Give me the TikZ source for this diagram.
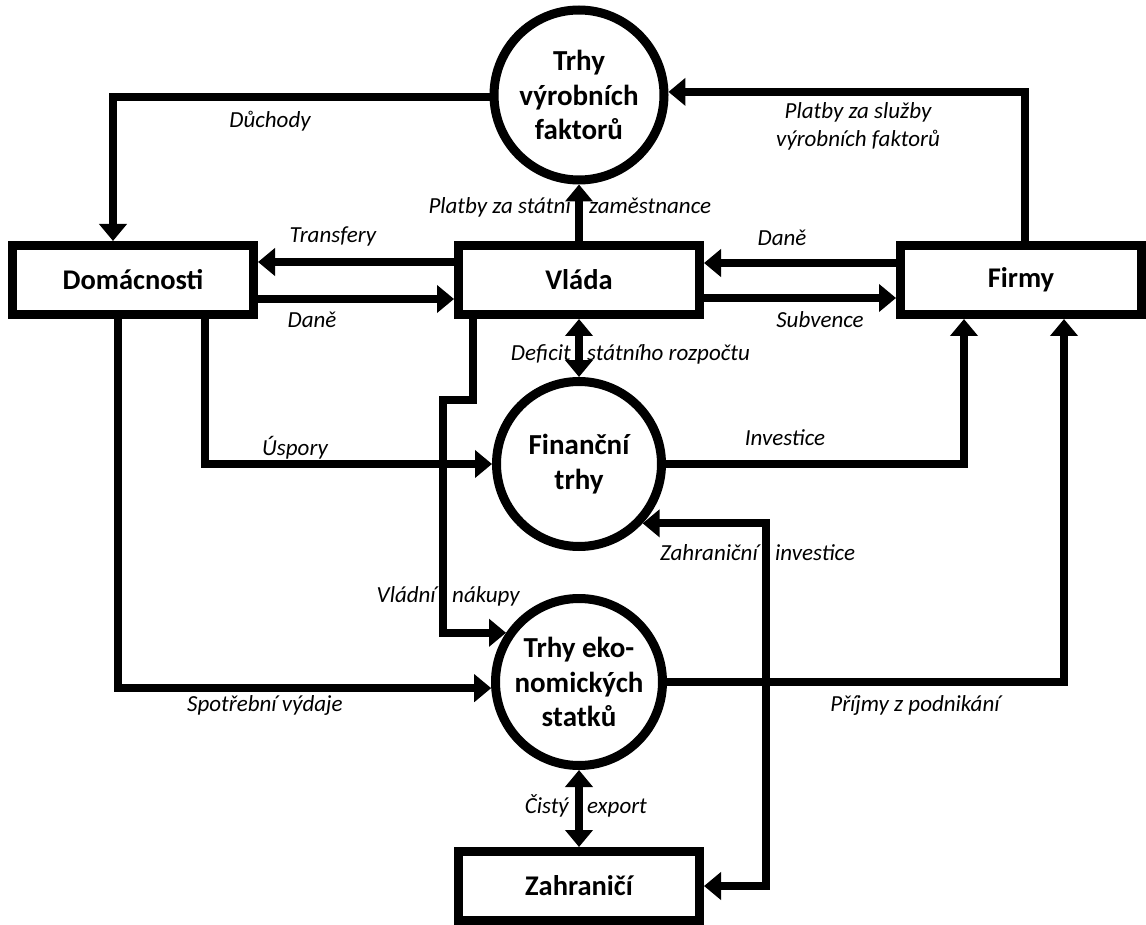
\documentclass[tikz,border=0pt]{standalone}
\usepackage{fontspec}
\setmainfont{Carlito}
\usetikzlibrary{arrows.meta}
\begin{document}
\begin{tikzpicture}[x=1pt,y=-1pt,
  box/.style={draw, line width=9pt, minimum width=241pt, minimum height=69pt, inner sep=0pt, font=\bfseries\fontsize{28.5}{34}\selectfont},
  mkt/.style={draw, circle, line width=9pt, inner sep=0pt, align=center, font=\bfseries\fontsize{29}{34.5}\selectfont},
  tip/.tip={Triangle[width=27pt,length=17pt]},
  flow/.style={line width=8pt, -tip},
  flowboth/.style={line width=8pt, tip-tip},
  lbl/.style={font=\itshape\fontsize{23}{28}\selectfont, inner sep=0pt, text height=16pt, text depth=5pt}
]
\fill[white] (0,0) rectangle (1146,925);
\useasboundingbox (0,0) rectangle (1146,925);

% nodes
\node[mkt, minimum size=170pt] (top) at (579,95) {Trhy\\výrobních\\faktorů};
\node[box] (dom) at (133,280) {Domácnosti};
\node[box] (vla) at (579,280) {Vláda};
\node[box] (fir) at (1021,280) {Firmy};
\node[mkt, minimum size=165pt] (fin) at (579,464) {Finanční\\trhy};
\node[mkt, minimum size=167pt] (gds) at (579,682) {Trhy eko-\\nomických\\statků};
\node[box] (zah) at (579,886) {Zahraničí};

\coordinate (zx) at (766,700);
\coordinate (vn) at (443,400);

% connectors
\draw[flow] (top.181) -| ([xshift=-20pt]dom.north);
\draw[flow] ([xshift=4pt]fir.north) |- (top.2);
\draw[flow] (vla.north) -- (top.south);
\draw[flow] ([yshift=18pt]vla.west) -- ([yshift=18pt]vla.west -| dom.east);
\draw[flow] ([yshift=-19pt]dom.east) -- ([yshift=-19pt]dom.east -| vla.west);
\draw[flow] ([yshift=17pt]fir.west) -- ([yshift=17pt]fir.west -| vla.east);
\draw[flow] ([yshift=-18pt]vla.east) -- ([yshift=-18pt]vla.east -| fir.west);
\draw[flowboth] (vla.south) -- (fin.north);
\draw[flow] ([xshift=72pt]dom.south) |- (fin.west);
\draw[flow] (fin.east) -| ([xshift=-57pt]fir.south);
\draw[flowboth] (fin.-43) -| (zx) |- (zah.east);
\draw[flow] ([xshift=-106pt]vla.south) |- (vn) |- (gds.146);
\draw[flow] ([xshift=-15pt]dom.south) |- (gds.184);
\draw[flow] (gds.east) -| ([xshift=43pt]fir.south);
\draw[flowboth] (gds.south) -- (zah.north);

% labels
\node[lbl] (l1) at (270,122) {Důchody};
\node[lbl, align=center, text height=, text depth=, font=\itshape\fontsize{23}{28}\selectfont] (l2) at (858,126) {Platby za služby\\výrobních faktorů};
\node[lbl, anchor=east] (l3a) at (571,208) {Platby za státní};
\node[lbl, anchor=west] (l3b) at (589,208) {zaměstnance};
\node[lbl] (l4) at (333,237) {Transfery};
\node[lbl] (l5) at (312,322) {Daně};
\node[lbl] (l6) at (782,240) {Daně};
\node[lbl] (l7) at (820,322) {Subvence};
\node[lbl, anchor=east] (l8a) at (571,355) {Deficit};
\node[lbl, anchor=west] (l8b) at (587,355) {státního rozpočtu};
\node[lbl] (l9) at (295,450) {Úspory};
\node[lbl] (l10) at (785,440) {Investice};
\node[lbl, anchor=east] (l11a) at (758,555) {Zahraniční};
\node[lbl, anchor=west] (l11b) at (775,555) {investice};
\node[lbl, anchor=east] (l12a) at (436,597) {Vládní};
\node[lbl, anchor=west] (l12b) at (452,597) {nákupy};
\node[lbl] (l13) at (265,706) {Spotřební výdaje};
\node[lbl] (l14) at (915,706) {Příjmy z podnikání};
\node[lbl, anchor=east] (l15a) at (569,808) {Čistý};
\node[lbl, anchor=west] (l15b) at (587,808) {export};
\end{tikzpicture}
\end{document}
